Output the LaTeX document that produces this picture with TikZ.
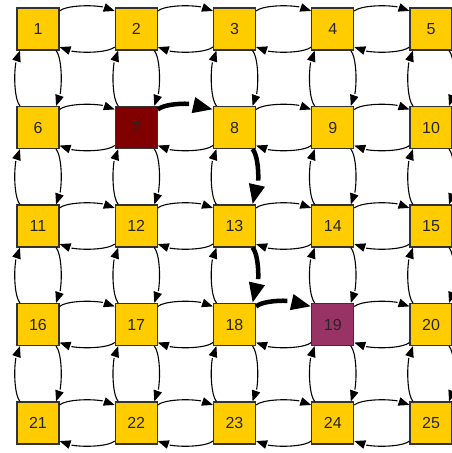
\documentclass[tikz,border=0pt]{standalone}
\usepackage{fontspec}
\setsansfont{Liberation Sans}
\usetikzlibrary{arrows.meta, bending, positioning}
\definecolor{cellfill}{RGB}{255,204,0}
\definecolor{startfill}{RGB}{128,0,0}
\definecolor{goalfill}{RGB}{153,51,102}
\definecolor{celledge}{RGB}{51,51,51}

\begin{document}
\begin{tikzpicture}[
    x=1pt, y=1pt,
    node distance=98.5pt and 98.25pt, on grid,
    cell/.style={
        rectangle, minimum size=42pt, inner sep=0pt, fill=cellfill,
        draw=celledge, line width=1.1pt, text=black!85,
        font=\sffamily\fontsize{16}{19}\selectfont
    },
    link/.style={-{Triangle[length=11pt,width=8.5pt]}, line width=1.1pt, bend left=40, looseness=0.5},
    route/.style={-{Triangle[length=20pt,width=15pt]}, line width=4.5pt, bend left=40, looseness=0.55}
]
\useasboundingbox (0,0) rectangle (452,-453);

% Row 1
\node[cell] (n1) at (38,-29) {1};
\node[cell, right=of n1] (n2) {2};
\node[cell, right=of n2] (n3) {3};
\node[cell, right=of n3] (n4) {4};
\node[cell, right=of n4] (n5) {5};

% Row 2
\node[cell, below=of n1] (n6) {6};
\node[cell, fill=startfill, right=of n6] (n7) {7};
\node[cell, right=of n7] (n8) {8};
\node[cell, right=of n8] (n9) {9};
\node[cell, right=of n9] (n10) {10};

% Row 3
\node[cell, below=of n6] (n11) {11};
\node[cell, right=of n11] (n12) {12};
\node[cell, right=of n12] (n13) {13};
\node[cell, right=of n13] (n14) {14};
\node[cell, right=of n14] (n15) {15};

% Row 4
\node[cell, below=of n11] (n16) {16};
\node[cell, right=of n16] (n17) {17};
\node[cell, right=of n17] (n18) {18};
\node[cell, fill=goalfill, right=of n18] (n19) {19};
\node[cell, right=of n19] (n20) {20};

% Row 5
\node[cell, below=of n16] (n21) {21};
\node[cell, right=of n21] (n22) {22};
\node[cell, right=of n22] (n23) {23};
\node[cell, right=of n23] (n24) {24};
\node[cell, right=of n24] (n25) {25};

% Horizontal links
\foreach \r in {0,...,4}{
    \foreach \c in {1,...,4}{
        \pgfmathtruncatemacro{\a}{5*\r+\c}
        \pgfmathtruncatemacro{\b}{\a+1}
        \ifnum\a=7 \else\ifnum\a=18 \else \draw[link] (n\a) to (n\b); \fi\fi
        \draw[link] (n\b) to (n\a);
    }
}

% Vertical links
\foreach \r in {0,...,3}{
    \foreach \c in {1,...,5}{
        \pgfmathtruncatemacro{\a}{5*\r+\c}
        \pgfmathtruncatemacro{\b}{\a+5}
        \ifnum\a=8 \else\ifnum\a=13 \else \draw[link] (n\a) to (n\b); \fi\fi
        \draw[link] (n\b) to (n\a);
    }
}

% Route
\draw[route] (n7) to (n8);
\draw[route] (n8) to (n13);
\draw[route] (n13) to (n18);
\draw[route] (n18) to (n19);

\end{tikzpicture}
\end{document}
